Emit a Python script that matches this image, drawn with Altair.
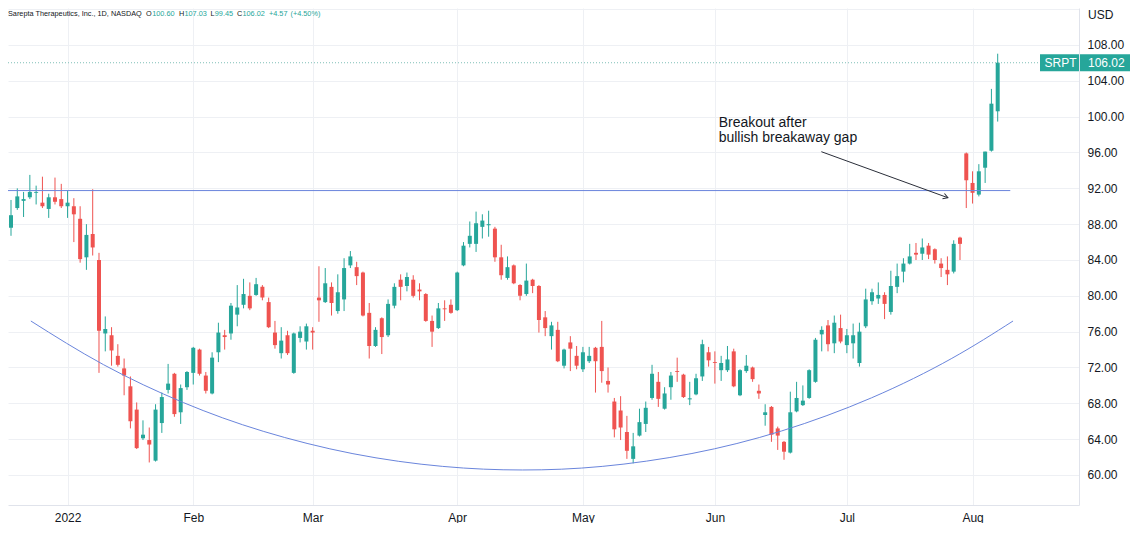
import altair as alt
import pandas as pd

# ---------------- data ----------------
day = list(range(-9, 149))  # trading-day index, 0 = 3 Jan 2022

opens = [87.6, 89.8, 90.6, 91.0, 91.5, 90.4, 89.7, 91.0, 90.8,
         90.0, 90.0, 88.6, 84.3, 86.9, 84.0, 75.8, 75.6, 73.3, 71.9,
         69.9, 67.3, 64.1, 63.9, 61.6, 65.8, 69.5, 71.3, 67.0, 69.8,
         71.4, 74.0, 71.1, 69.1, 73.7, 75.6, 75.8, 77.9, 79.0, 80.0,
         80.1, 81.0, 79.3, 75.9, 73.6, 75.6, 71.4, 75.3, 74.9, 76.1,
         79.8, 79.3, 81.0, 78.3, 79.6, 83.4, 83.2, 82.6, 78.1, 74.4,
         77.5, 75.6, 78.9, 81.8, 81.1, 81.8, 80.7, 80.2, 77.2, 76.4,
         78.6, 79.0, 78.4, 83.4, 85.8, 85.8, 87.7, 87.88, 87.5, 84.3,
         82.0, 83.4, 81.2, 80.2, 81.8, 81.1, 77.6, 75.5, 76.2, 72.2,
         74.8, 73.3, 71.8, 72.7, 74.2, 74.3, 70.5, 68.2, 67.2, 64.8,
         61.8, 64.4, 65.7, 68.6, 70.4, 67.4, 69.8, 71.6, 71.2, 68.44,
         69.0, 71.0, 73.7, 72.6, 71.7, 71.7, 73.8, 68.9, 71.6, 72.0,
         69.4, 66.7, 67.6, 65.2, 63.7, 62.5, 67.1, 67.8, 68.6, 70.4,
         75.7, 76.7, 74.7, 76.4, 74.5, 74.7, 72.5, 76.6, 79.4, 79.7,
         80.1, 78.2, 81.0, 82.7, 83.6, 84.8, 84.7, 85.6, 85.2, 83.6,
         82.9, 82.7, 86.5, 95.9, 92.6, 91.3, 94.3, 96.2, 100.60]

highs = [90.7, 92.0, 91.6, 93.5, 92.3, 93.3, 91.4, 93.2, 92.5,
         91.7, 90.9, 90.0, 88.0, 91.9, 84.8, 77.7, 76.5, 74.6, 73.0,
         71.0, 68.1, 66.1, 65.3, 67.9, 69.2, 72.4, 71.4, 70.1, 71.6,
         74.3, 74.1, 71.5, 73.7, 77.0, 76.2, 79.2, 81.2, 81.9, 81.5,
         82.0, 81.2, 79.8, 77.2, 76.5, 76.1, 75.9, 76.6, 76.9, 76.5,
         83.3, 83.1, 81.5, 82.4, 84.2, 85.0, 83.8, 82.7, 79.2, 76.5,
         77.6, 79.6, 81.4, 82.4, 82.6, 82.3, 81.4, 80.3, 77.8, 79.2,
         79.5, 79.6, 82.7, 86.0, 88.3, 89.4, 89.1, 89.5, 87.7, 85.7,
         84.4, 83.5, 81.3, 83.6, 81.9, 81.2, 78.3, 77.1, 77.1, 74.1,
         75.5, 74.4, 74.3, 74.3, 74.3, 77.2, 72.0, 68.6, 68.8, 66.6,
         64.7, 67.4, 68.2, 72.3, 71.5, 69.8, 71.5, 73.1, 71.3, 70.4,
         71.3, 75.1, 74.3, 73.8, 73.3, 74.4, 74.1, 71.8, 73.4, 72.1,
         70.1, 67.9, 67.7, 65.4, 63.8, 69.3, 70.4, 70.0, 71.8, 75.3,
         76.6, 77.3, 77.8, 77.9, 76.3, 76.9, 77.0, 80.8, 80.8, 81.5,
         80.4, 82.8, 83.6, 84.2, 85.8, 85.9, 86.4, 85.9, 85.3, 84.2,
         84.4, 86.2, 86.6, 96.0, 93.9, 94.7, 96.1, 103.1, 107.03]

lows = [86.7, 89.6, 88.8, 90.8, 90.2, 89.8, 88.7, 90.2, 89.8,
        88.7, 86.0, 83.7, 82.9, 84.5, 71.4, 73.8, 72.2, 72.1, 68.9,
        65.2, 62.9, 63.9, 61.4, 61.5, 64.7, 69.1, 66.5, 65.7, 69.5,
        70.1, 71.1, 69.1, 69.0, 72.6, 74.0, 75.1, 76.6, 78.6, 78.4,
        80.0, 79.5, 76.4, 74.1, 73.0, 73.4, 71.3, 74.8, 74.0, 74.0,
        77.1, 79.2, 77.8, 78.0, 78.3, 83.1, 81.2, 77.7, 73.0, 74.3,
        73.5, 75.4, 78.6, 79.5, 80.5, 79.8, 79.5, 77.1, 74.3, 76.3,
        77.2, 78.0, 78.3, 83.3, 85.4, 84.9, 86.4, 86.6, 83.8, 81.8,
        81.8, 81.3, 79.5, 80.0, 80.3, 75.9, 75.5, 74.0, 72.6, 71.9,
        71.6, 71.8, 71.5, 72.5, 69.2, 70.3, 69.2, 64.2, 63.9, 61.8,
        61.3, 64.3, 64.8, 68.4, 67.6, 67.3, 68.4, 70.4, 68.6, 67.8,
        68.9, 70.5, 72.1, 70.2, 70.5, 71.5, 69.8, 68.8, 71.4, 70.4,
        68.5, 65.5, 63.7, 62.8, 61.7, 62.4, 67.0, 67.7, 68.5, 70.3,
        73.8, 73.8, 73.6, 74.7, 73.6, 73.0, 72.1, 76.4, 79.0, 79.1,
        77.4, 77.9, 80.3, 81.5, 83.5, 84.0, 84.0, 84.1, 83.6, 82.1,
        81.2, 82.5, 84.0, 89.8, 90.3, 91.1, 92.6, 96.1, 99.45]

closes = [89.0, 91.1, 90.8, 91.6, 91.6, 90.0, 91.0, 90.5, 90.0,
          90.4, 89.1, 84.1, 86.8, 85.4, 76.1, 76.3, 73.9, 72.3, 71.1,
          66.0, 63.0, 64.5, 63.4, 67.3, 68.7, 70.2, 66.8, 69.7, 71.5,
          74.2, 71.3, 69.4, 73.1, 75.9, 75.4, 78.9, 78.7, 80.2, 78.6,
          81.3, 79.8, 76.5, 74.5, 75.0, 73.6, 75.8, 76.0, 76.6, 75.9,
          79.5, 81.4, 79.2, 80.4, 83.1, 84.4, 82.2, 77.8, 74.4, 76.2,
          75.4, 79.1, 81.0, 81.0, 82.1, 80.0, 80.5, 77.2, 76.0, 78.6,
          78.5, 78.1, 82.6, 85.6, 86.7, 88.1, 88.4, 88.0, 84.3, 82.3,
          83.2, 81.4, 80.0, 81.7, 81.1, 77.3, 76.4, 76.7, 72.7, 74.0,
          74.1, 72.2, 73.7, 73.3, 72.7, 71.6, 70.1, 65.1, 65.3, 62.7,
          63.2, 65.9, 67.5, 71.3, 68.5, 69.1, 71.1, 71.5, 68.7, 68.56,
          70.8, 74.6, 72.8, 72.5, 72.5, 72.9, 69.9, 71.7, 72.2, 70.7,
          69.1, 67.0, 64.5, 64.4, 62.6, 67.0, 68.6, 68.3, 71.7, 75.1,
          76.2, 74.6, 77.0, 74.9, 75.6, 75.6, 76.0, 79.6, 80.4, 80.1,
          79.1, 81.1, 82.2, 83.6, 84.4, 84.6, 85.4, 84.6, 84.0, 83.1,
          82.4, 85.8, 85.8, 92.9, 91.5, 93.9, 96.1, 101.45, 106.02]

month_start = [0, 20, 39, 62, 82, 103, 124, 144]
month_label = ["2022", "Feb", "Mar", "Apr", "May", "Jun", "Jul", "Aug"]
price_ticks = list(range(60, 113, 4))

resistance_level = 91.75
resistance_end_day = 150.0

arc_day = [-5.84, 5.74, 18.44, 31.13, 45.41, 59.69, 72.38, 85.07,
           99.35, 113.63, 127.91, 140.60, 150.44]
arc_price = [77.19, 72.31, 68.08, 64.88, 62.38, 60.96, 60.56, 60.96,
             62.40, 64.92, 68.61, 72.98, 77.19]

arrow_day = [119.94, 140.08]
arrow_price = [96.09, 90.95]
note_lines = ["Breakout after", "bullish breakaway gap"]
note_day = 103.6
note_price = [98.85, 97.17]

ticker = "SRPT"
title_text = "Sarepta Therapeutics, Inc., 1D, NASDAQ"

assert len(opens) == len(highs) == len(lows) == len(closes) == len(day)

# ---------------- layout / style ----------------
W, H = 1071, 497
X_LO = -9.4774
X_HI = X_LO + W / 6.2847
Y_LO, Y_HI = 56.651, 112.130

UP, DOWN = "#26a69a", "#ef5350"
BLUE = "#6a85dc"
GRID = "#eef0f4"
BORDER = "#e0e3eb"
TEXT = "#131722"
ARROW = "#2a2e39"
FONT = "Liberation Sans"

xsc = alt.Scale(domain=[X_LO, X_HI], nice=False, zero=False, padding=0)
ysc = alt.Scale(domain=[Y_LO, Y_HI], nice=False, zero=False, padding=0)

label_expr = " : ".join(f"datum.value == {d} ? '{l}'"
                        for d, l in zip(month_start, month_label)) + " : ''"

x_axis = alt.Axis(values=month_start, labelExpr=label_expr, grid=True,
                  gridColor=GRID, ticks=False, tickSize=0, domainColor=BORDER,
                  labelFont=FONT, labelFontSize=12, labelColor=TEXT,
                  labelPadding=7, labelFlush=False, labelOverlap=False, title=None)
y_axis = alt.Axis(orient="right", values=price_ticks,
                  labelExpr="datum.value > 110 ? '' : format(datum.value, '.2f')",
                  grid=True, gridColor=GRID, ticks=False, tickSize=0,
                  domainColor=BORDER, labelFont=FONT, labelFontSize=12,
                  labelColor=TEXT, labelPadding=8, labelOverlap=False,
                  labelFlush=False, title=None)


def X(f):
    return alt.X(f, type="quantitative", scale=xsc, axis=x_axis, title=None)


def Y(f):
    return alt.Y(f, type="quantitative", scale=ysc, axis=y_axis, title=None)


df = pd.DataFrame({"day": day, "open": opens, "high": highs,
                   "low": lows, "close": closes})
df["dir"] = ["up" if c >= o else "down" for o, c in zip(opens, closes)]
color = alt.Color("dir:N", scale=alt.Scale(domain=["up", "down"], range=[UP, DOWN]),
                  legend=None)

wicks = alt.Chart(df).mark_rule(strokeWidth=1).encode(
    x=X("day"), y=Y("low"), y2=alt.Y2("high:Q"), color=color)
bodies = alt.Chart(df).mark_bar(size=4).encode(
    x=X("day"), y=Y("open"), y2=alt.Y2("close:Q"), color=color)

res_df = pd.DataFrame({"d0": [X_LO], "d1": [resistance_end_day], "p": [resistance_level]})
resistance = alt.Chart(res_df).mark_rule(color=BLUE, strokeWidth=1).encode(
    x=X("d0"), x2=alt.X2("d1"), y=Y("p"))

arc_df = pd.DataFrame({"day": arc_day, "price": arc_price})
arc = alt.Chart(arc_df).mark_line(color=BLUE, strokeWidth=1, interpolate="natural").encode(
    x=X("day"), y=Y("price"))

last = df.iloc[[-1]].copy()
last["tick"] = ticker
last["lbl"] = [f"{v:.2f}" for v in last["close"]]
price_line = alt.Chart(last).mark_rule(color="#7fbfb8", strokeDash=[1, 2],
                                       strokeWidth=1).encode(
    x=alt.value(0), x2=alt.value(W), y=Y("close"))

arr_df = pd.DataFrame({"d0": [arrow_day[0]], "p0": [arrow_price[0]],
                       "d1": [arrow_day[1]], "p1": [arrow_price[1]]})
arrow = alt.Chart(arr_df).mark_rule(color=ARROW, strokeWidth=1).encode(
    x=X("d0"), y=Y("p0"), x2=alt.X2("d1"), y2=alt.Y2("p1"))
head = alt.Chart(arr_df).mark_point(shape="M-1,-0.6L0,0L-1,0.6", size=90, filled=False,
                                    strokeWidth=1, color=ARROW, angle=20, opacity=1).encode(
    x=X("d1"), y=Y("p1"))

note_df = pd.DataFrame({"day": [note_day] * 2, "price": note_price, "t": note_lines})
note = alt.Chart(note_df).mark_text(align="left", baseline="alphabetic", fontSize=14,
                                    font=FONT, color=TEXT).encode(
    x=X("day"), y=Y("price"), text="t:N")

# header (legend line)
o, h, l, c = opens[-1], highs[-1], lows[-1], closes[-1]
chg = c - closes[-2]
pct = chg / closes[-2] * 100
header_parts = [
    (title_text, 0, TEXT),
    ("O", 138, TEXT), (f"{o:.2f}", 144.2, UP),
    ("H", 171, TEXT), (f"{h:.2f}", 176.5, UP),
    ("L", 202.6, TEXT), (f"{l:.2f}", 206.8, UP),
    ("C", 229, TEXT), (f"{c:.2f}", 234.5, UP),
    (f"{chg:+.2f}", 261, UP), (f"({pct:+.2f}%)", 282.5, UP),
]
header_layers = []
for txt, xp, col in header_parts:
    header_layers.append(
        alt.Chart(pd.DataFrame({"t": [txt]})).mark_text(
            align="left", baseline="middle", fontSize=7.3, font=FONT, color=col
        ).encode(text="t:N", x=alt.value(xp), y=alt.value(5.5))
    )

usd = alt.Chart(pd.DataFrame({"t": ["USD"]})).mark_text(
    align="left", baseline="middle", fontSize=12, font=FONT, color=TEXT
).encode(text="t:N", x=alt.value(1080), y=alt.value(7))

tag_box1 = alt.Chart(last).mark_tick(thickness=17, size=39, color=UP, opacity=1).encode(
    x=alt.value(1051.5), y=Y("close"))
tag_box2 = alt.Chart(last).mark_tick(thickness=17, size=51, color=UP, opacity=1).encode(
    x=alt.value(1097.5), y=Y("close"))
tag_t1 = alt.Chart(last).mark_text(align="center", baseline="middle", fontSize=12,
                                   font=FONT, color="white").encode(
    x=alt.value(1052.5), y=Y("close"), text="tick:N")
tag_t2 = alt.Chart(last).mark_text(align="left", baseline="middle", fontSize=12,
                                   font=FONT, color="white").encode(
    x=alt.value(1080), y=Y("close"), text="lbl:N")

chart = alt.layer(
    wicks, bodies, resistance, arc, price_line, arrow, head, note,
    *header_layers, usd, tag_box1, tag_box2, tag_t1, tag_t2
).properties(
    width=W, height=H,
    autosize=alt.AutoSizeParams(type="none"),
    padding={"left": 0, "top": 0, "right": 51, "bottom": 18},
    background="white",
).configure_view(strokeWidth=0)

chart.save("out.html", embed_options={"renderer": "svg", "actions": False})
